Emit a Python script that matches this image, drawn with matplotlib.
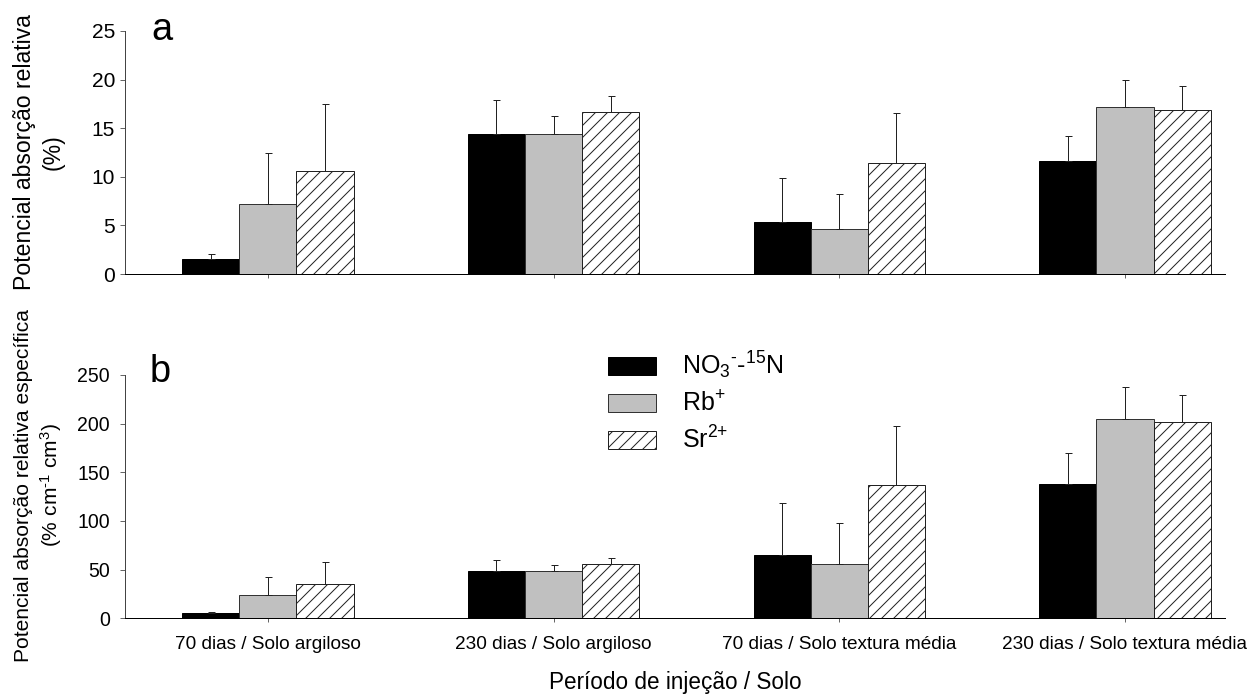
import numpy as np
import matplotlib
matplotlib.use("Agg")
import matplotlib.pyplot as plt

plt.rcParams['font.family'] = ['Liberation Sans', 'DejaVu Sans']
plt.rcParams['mathtext.fontset'] = 'custom'
plt.rcParams['mathtext.rm'] = 'Liberation Sans'
plt.rcParams['mathtext.it'] = 'Liberation Sans:italic'
plt.rcParams['mathtext.default'] = 'regular'
plt.rcParams['hatch.linewidth'] = 1.0

# categories
groups = ["70 dias / Solo argiloso", "230 dias / Solo argiloso",
          "70 dias / Solo textura média", "230 dias / Solo textura média"]
series_labels = ["NO$_3$$^{\u2010}$-$^{15}$N", "Rb$^{+}$", "Sr$^{2{+}}$"]

# panel a: potencial absorção relativa (%)
a_no3 = [1.5, 14.4, 5.4, 11.6]
a_no3_err = [0.55, 3.5, 4.45, 2.6]
a_rb = [7.2, 14.45, 4.6, 17.15]
a_rb_err = [5.3, 1.85, 3.65, 2.85]
a_sr = [10.55, 16.65, 11.45, 16.85]
a_sr_err = [6.95, 1.7, 5.15, 2.5]

# panel b: potencial absorção relativa específica (% cm-1 cm3)
b_no3 = [5.1, 48.6, 64.7, 138.3]
b_no3_err = [1.8, 11.7, 53.5, 31.2]
b_rb = [24.3, 48.9, 55.5, 204.5]
b_rb_err = [17.8, 5.5, 42.7, 33.5]
b_sr = [35.6, 56.1, 137.0, 201.4]
b_sr_err = [22.6, 5.5, 60.9, 28.3]

DPI = 72
W, H = 1255, 694
fig = plt.figure(figsize=(W / DPI, H / DPI), dpi=DPI)

ax_a = fig.add_axes([125 / W, 1 - 274 / H, 1100 / W, 243 / H])
ax_b = fig.add_axes([125 / W, 1 - 618.3 / H, 1100 / W, 243.3 / H])

x = np.arange(len(groups))
width = 0.2
styles = [dict(color="black", edgecolor="black"),
          dict(color="#c0c0c0", edgecolor="#333333"),
          dict(color="white", edgecolor="#222222", hatch="//")]


def draw_panel(ax, vals, errs, ymax, step, ysize, ypad):
    for i, (v, e, st) in enumerate(zip(vals, errs, styles)):
        xpos = x + (i - 1) * width
        ax.bar(xpos, v, width=width, linewidth=1.0, label=series_labels[i], zorder=2, **st)
        ax.errorbar(xpos, v, yerr=[np.zeros(len(e)), e], fmt="none", ecolor="#222222",
                    elinewidth=1.0, capsize=3.5, capthick=1.0, zorder=3)
    ax.set_xlim(-0.5, 3.35)
    ax.set_ylim(0, ymax)
    ax.set_yticks(np.arange(0, ymax + 1, step))
    ax.set_xticks(x)
    for s in ["top", "right"]:
        ax.spines[s].set_visible(False)
    ax.spines["left"].set_color("#444444")
    ax.spines["bottom"].set_color("black")
    ax.spines["left"].set_linewidth(1.0)
    ax.spines["bottom"].set_linewidth(1.0)
    ax.tick_params(axis="y", direction="out", length=5, width=1, color="#666666",
                   labelsize=ysize, pad=ypad)
    ax.tick_params(axis="x", direction="out", length=4, width=1, color="#666666",
                   labelsize=19, pad=14)


draw_panel(ax_a, [a_no3, a_rb, a_sr], [a_no3_err, a_rb_err, a_sr_err], 25, 5, 21, 5)
draw_panel(ax_b, [b_no3, b_rb, b_sr], [b_no3_err, b_rb_err, b_sr_err], 250, 50, 19.5, 10)

ax_a.set_xticklabels([])
ax_b.set_xticklabels(groups)

ax_a.text(0.024, 0.963, "a", transform=ax_a.transAxes, fontsize=38, va="baseline")
ax_b.text(0.022, 0.971, "b", transform=ax_b.transAxes, fontsize=38, va="baseline")

fig.text(39 / W, 1 - 152 / H, "Potencial absorção relativa\n(%)", rotation=90,
         ha="center", va="center", multialignment="center", fontsize=23, linespacing=1.3)
fig.text(39 / W, 1 - 485 / H, "Potencial absorção relativa específica\n(% cm$^{\u20101}$ cm$^{3}$)",
         rotation=90, ha="center", va="center", multialignment="center", fontsize=21,
         linespacing=1.3)

fig.text(675 / W, 1 - 682 / H, "Período de injeção / Solo", ha="center", va="center", fontsize=22.5)

ax_b.legend(loc="upper left", bbox_to_anchor=(608 / W, 1 - 350 / H),
            bbox_transform=fig.transFigure, frameon=False, fontsize=25,
            handlelength=1.9, handleheight=0.75, handletextpad=1.05,
            labelspacing=0.4, borderpad=0, borderaxespad=0)

fig.savefig("out.png", dpi=DPI)
